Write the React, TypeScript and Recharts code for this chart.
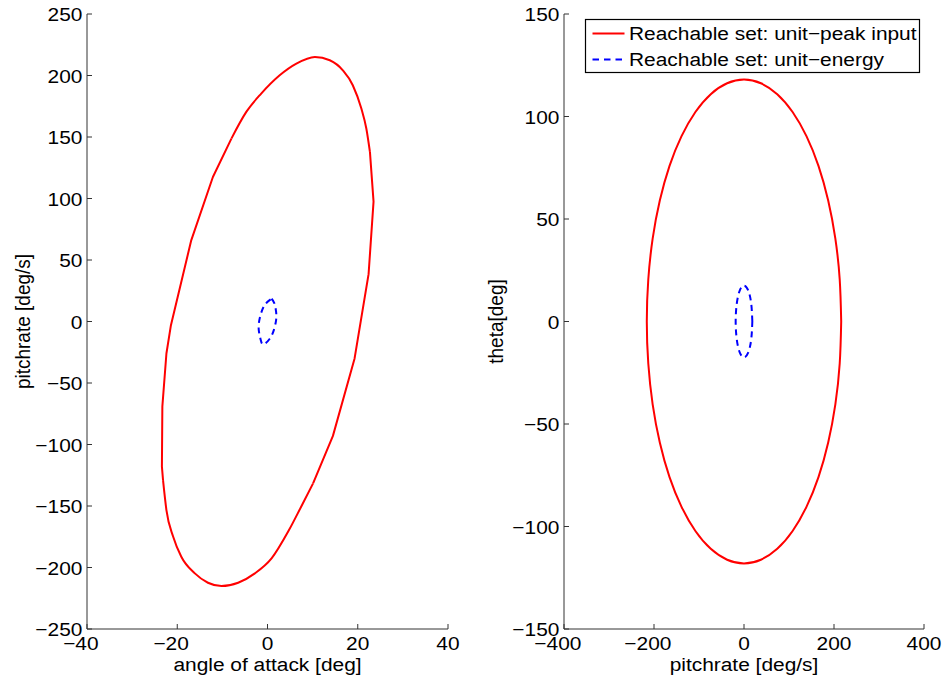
import React from 'react';
import { ScatterChart, Scatter, XAxis, YAxis } from 'recharts';

const FONT = '"Liberation Sans", Arial, Helvetica, sans-serif';
const FS = 19;
const SX = 1.1;
const DIGIT_W = 0.556 * FS;
const AXIS = '#333333';

// tick values
const alphaTicks = [-40, -20, 0, 20, 40];
const pitchTicks = [-250, -200, -150, -100, -50, 0, 50, 100, 150, 200, 250];
const rateTicks = [-400, -200, 0, 200, 400];
const thetaTicks = [-150, -100, -50, 0, 50, 100, 150];

// Left panel: unit-peak reachable set (angle of attack vs pitchrate), traced in four pieces
const peakTopAlpha = [-8.0, -4.7, -1.4, 2.7, 6.4, 10.5, 13.8, 16.7, 18.9, 20.8, 21.9, 22.7];
const peakTopPitch = [148.7, 170.4, 185.3, 200.2, 209.7, 215.1, 212.4, 204.2, 192.1, 173.1, 156.9, 137.9];
const peakRightAlpha = [22.7, 23.5, 22.4, 19.3, 14.5, 10.1];
const peakRightPitch = [137.9, 97.5, 38.5, -30, -93, -131.6];
const peakBottomAlpha = [-23.15, -22.4, -20.9, -19.1, -16.1, -13.2, -10.2, -6.5, -2.8, 0.9, 4.7, 7.4, 10.1];
const peakBottomPitch = [-129, -153.3, -175, -191.3, -204.8, -212.4, -215.1, -212.4, -204.8, -192.6, -170, -151, -131.6];
const peakLeftAlpha = [-23.15, -23.4, -23.3, -22.4, -21.4, -16.9, -12.1, -8.0];
const peakLeftPitch = [-129, -118, -69, -26, -3, 66, 117.5, 148.7];

// Left panel: unit-energy reachable set
const energyAlpha = [0.9, 1.5, 1.9, 1.9, 1.4, 0.5, -0.9, -1.5, -1.9, -1.9, -1.4, -0.5, 0.9];
const energyPitch = [18.5, 15, 8, 1, -7, -14, -18.5, -15, -8, -1, 7, 14, 18.5];

// Right panel: unit-peak reachable set (pitchrate vs theta)
const peakRate = [216, 212.7, 203, 187.1, 165.5, 138.8, 108, 73.9, 37.5, 0, -37.5, -73.9, -108, -138.8, -165.5, -187.1, -203, -212.7, -216, -212.7, -203, -187.1, -165.5, -138.8, -108, -73.9, -37.5, 0, 37.5, 73.9, 108, 138.8, 165.5, 187.1, 203, 212.7, 216];
const peakTheta = [0, 20.5, 40.4, 59, 75.9, 90.4, 102.2, 110.9, 116.2, 118, 116.2, 110.9, 102.2, 90.4, 75.9, 59, 40.4, 20.5, 0, -20.5, -40.4, -59, -75.9, -90.4, -102.2, -110.9, -116.2, -118, -116.2, -110.9, -102.2, -90.4, -75.9, -59, -40.4, -20.5, 0];

// Right panel: unit-energy reachable set
const energyRate = [18.5, 16, 9.3, 0, -9.3, -16, -18.5, -16, -9.3, 0, 9.3, 16, 18.5];
const energyTheta = [0, 8.8, 15.2, 17.5, 15.2, 8.8, 0, -8.8, -15.2, -17.5, -15.2, -8.8, 0];

type Pt = { x: number; y: number };
const zip = (xs: number[], ys: number[]): Pt[] => xs.map((x, i) => ({ x, y: ys[i] }));

const leftPeakPieces: { data: Pt[]; curve: string }[] = [
  { data: zip(peakTopAlpha, peakTopPitch), curve: 'monotoneX' },
  { data: zip(peakRightAlpha, peakRightPitch), curve: 'linear' },
  { data: zip(peakBottomAlpha, peakBottomPitch), curve: 'monotoneX' },
  { data: zip(peakLeftAlpha, peakLeftPitch), curve: 'linear' },
];
const leftEnergy = zip(energyAlpha, energyPitch);
const rightPeakPieces = [{ data: zip(peakRate, peakTheta), curve: 'natural' }];
const rightEnergy = zip(energyRate, energyTheta);

const txt = { fontFamily: FONT, fontSize: FS, fill: '#000' } as const;

const XTick = (props: any) => {
  const { x, y, payload } = props;
  const v = Number(payload.value);
  const digits = String(Math.abs(v));
  const half = (digits.length * DIGIT_W) / 2;
  return (
    <g>
      <line x1={x} y1={y} x2={x} y2={y - 5} stroke={AXIS} strokeWidth={1} />
      <g transform={`translate(${x},${y + 21}) scale(${SX},1)`}>
        {v < 0 && (
          <text x={-half} y={0} textAnchor="end" {...txt}>
            {'\u2212'}
          </text>
        )}
        <text x={0} y={0} textAnchor="middle" {...txt}>
          {digits}
        </text>
      </g>
    </g>
  );
};

const YTick = (props: any) => {
  const { x, y, payload } = props;
  const v = Number(payload.value);
  const label = (v < 0 ? '\u2212' : '') + String(Math.abs(v));
  return (
    <g>
      <line x1={x} y1={y} x2={x + 5} y2={y} stroke={AXIS} strokeWidth={1} />
      <g transform={`translate(${x - 4.6},${y + 7.2}) scale(${SX},1)`}>
        <text x={0} y={0} textAnchor="end" {...txt}>
          {label}
        </text>
      </g>
    </g>
  );
};

const NoDot = () => <g />;

const Panel = (p: {
  width: number;
  margin: { top: number; right: number; bottom: number; left: number };
  xTicks: number[];
  yTicks: number[];
  peakPieces: { data: Pt[]; curve: string }[];
  energy: Pt[];
}) => (
  <ScatterChart width={p.width} height={679} margin={p.margin}>
    <XAxis
      type="number"
      dataKey="x"
      domain={[p.xTicks[0], p.xTicks[p.xTicks.length - 1]]}
      ticks={p.xTicks}
      interval={0}
      allowDataOverflow
      height={50}
      tickSize={0}
      tickMargin={0}
      tickLine={false}
      axisLine={{ stroke: AXIS, strokeWidth: 1 }}
      tick={XTick}
    />
    <YAxis
      type="number"
      dataKey="y"
      domain={[p.yTicks[0], p.yTicks[p.yTicks.length - 1]]}
      ticks={p.yTicks}
      interval={0}
      allowDataOverflow
      width={70}
      tickSize={0}
      tickMargin={0}
      tickLine={false}
      axisLine={{ stroke: AXIS, strokeWidth: 1 }}
      tick={YTick}
    />
    {p.peakPieces.map((piece, i) => (
      <Scatter
        key={`peak-${i}`}
        data={piece.data}
        isAnimationActive={false}
        shape={NoDot}
        fill="#ff0000"
        line={{ stroke: '#ff0000', strokeWidth: 2, fill: 'none', strokeLinejoin: 'round' }}
        lineType="joint"
        lineJointType={piece.curve as any}
        legendType="none"
      />
    ))}
    <Scatter
      data={p.energy}
      isAnimationActive={false}
      shape={NoDot}
      fill="#0000ff"
      line={{ stroke: '#0000ff', strokeWidth: 2, fill: 'none', strokeDasharray: '6 4.5' }}
      lineType="joint"
      lineJointType="natural"
      legendType="none"
    />
  </ScatterChart>
);

export default function App() {
  return (
    <div style={{ position: 'absolute', left: 0, top: 0, width: 946, height: 679, background: '#fff' }}>
      <div style={{ position: 'absolute', left: 0, top: 0 }}>
        <Panel
          width={460}
          margin={{ top: 14, right: 12, bottom: 0, left: 17 }}
          xTicks={alphaTicks}
          yTicks={pitchTicks}
          peakPieces={leftPeakPieces}
          energy={leftEnergy}
        />
      </div>
      <div style={{ position: 'absolute', left: 470, top: 0 }}>
        <Panel
          width={476}
          margin={{ top: 14, right: 22, bottom: 0, left: 24 }}
          xTicks={rateTicks}
          yTicks={thetaTicks}
          peakPieces={rightPeakPieces}
          energy={rightEnergy}
        />
      </div>
      <svg
        width={946}
        height={679}
        style={{ position: 'absolute', left: 0, top: 0, pointerEvents: 'none' }}
      >
        {/* axis titles */}
        <g transform={`translate(267.5,671) scale(${SX},1)`}>
          <text x={0} y={0} textAnchor="middle" {...txt}>angle of attack [deg]</text>
        </g>
        <g transform={`translate(744,671) scale(${SX},1)`}>
          <text x={0} y={0} textAnchor="middle" {...txt}>pitchrate [deg/s]</text>
        </g>
        <g transform={`translate(29.5,321.5) rotate(-90) scale(1,${SX})`}>
          <text x={0} y={0} textAnchor="middle" {...txt}>pitchrate [deg/s]</text>
        </g>
        <g transform={`translate(502.5,321.5) rotate(-90) scale(1,${SX})`}>
          <text x={0} y={0} textAnchor="middle" {...txt}>theta[deg]</text>
        </g>
        {/* legend */}
        <rect x={585.5} y={19.5} width={334} height={53} fill="#fff" stroke="#000" strokeWidth={1.2} />
        <line x1={592.5} y1={33.5} x2={624.5} y2={33.5} stroke="#ff0000" strokeWidth={2} />
        <line x1={592.5} y1={59.5} x2={624.5} y2={59.5} stroke="#0000ff" strokeWidth={2} strokeDasharray="6.5 5" />
        <g transform={`translate(629,40) scale(${SX},1)`}>
          <text x={0} y={0} {...txt}>Reachable set: unit{'\u2212'}peak input</text>
        </g>
        <g transform={`translate(629,65.7) scale(${SX},1)`}>
          <text x={0} y={0} {...txt}>Reachable set: unit{'\u2212'}energy</text>
        </g>
      </svg>
    </div>
  );
}
